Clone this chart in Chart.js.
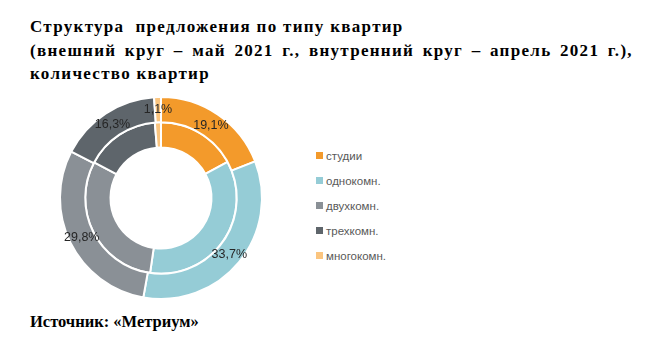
<!DOCTYPE html>
<html lang="ru">
<head>
<meta charset="utf-8">
<script src="https://cdn.jsdelivr.net/npm/chart.js@4"></script>
<style>
  html, body { margin: 0; padding: 0; background: #fff; }
  body { width: 653px; height: 338px; position: relative; overflow: hidden; }
  .title {
    position: absolute; left: 30px; top: 15px;
    font: bold 17px "Liberation Serif", "Times New Roman", serif;
    line-height: 23.5px; color: #000; white-space: nowrap;
  }
  .title div { letter-spacing: 1.3px; }
  .title .wide { word-spacing: 3px; }
  .source {
    position: absolute; left: 30px; top: 313px;
    font: bold 16.5px "Liberation Serif", "Times New Roman", serif;
    line-height: 17px; color: #000; white-space: nowrap;
  }
  .chart-box { position: absolute; left: 55px; top: 92px; width: 212px; height: 212px; }
  #legend {
    position: absolute; left: 316px; top: 148px; margin: 0; padding: 0; list-style: none;
    font: 11.5px "Liberation Sans", Arial, sans-serif; color: #595959;
  }
  #legend li { height: 25px; line-height: 16px; }
  #legend span.box { display: inline-block; width: 7px; height: 7px; margin-right: 3px; vertical-align: 1px; }
</style>
</head>
<body>
<div class="title">
  <div>Структура&nbsp; предложения по типу квартир</div>
  <div class="wide">(внешний круг – май 2021 г., внутренний круг – апрель 2021 г.),</div>
  <div>количество квартир</div>
</div>
<div class="chart-box"><canvas id="ringChart"></canvas></div>
<ul id="legend"></ul>
<div class="source">Источник: «Метриум»</div>

<script>
// apartment types and shares, %
const categories = ['студии', 'однокомн.', 'двухкомн.', 'трехкомн.', 'многокомн.'];
const mayShares = [19.1, 33.7, 29.8, 16.3, 1.1];     // outer ring
const aprilShares = [17.1, 35.2, 30.5, 15.9, 1.3];   // inner ring
const sliceColors = ['#F39A2B', '#95CCD6', '#8A9096', '#5E656B', '#FBC57F'];

// percent labels on the outer ring, placed at the middle of each arc
const ringLabels = {
    id: 'ringLabels',
    afterDatasetsDraw(chart) {
        const ctx = chart.ctx;
        const meta = chart.getDatasetMeta(0);
        ctx.save();
        ctx.font = '12.5px "Liberation Sans", Arial, sans-serif';
        ctx.fillStyle = '#262626';
        ctx.textAlign = 'center';
        ctx.textBaseline = 'middle';
        meta.data.forEach(function(arc, i) {
            const p = arc.tooltipPosition();
            const txt = mayShares[i].toFixed(1).replace('.', ',') + '%';
            ctx.fillText(txt, p.x, p.y);
        });
        ctx.restore();
    }
};

new Chart(document.getElementById('ringChart'), {
    type: 'doughnut',
    data: {
        labels: categories,
        datasets: [
            { data: mayShares, backgroundColor: sliceColors, borderColor: '#fff', borderWidth: 2 },
            { data: aprilShares, backgroundColor: sliceColors, borderColor: '#fff', borderWidth: 2 }
        ]
    },
    options: {
        responsive: true,
        maintainAspectRatio: false,
        animation: false,
        cutout: '50%',
        layout: { padding: 4 },
        plugins: {
            legend: { display: false },
            tooltip: { enabled: false }
        }
    },
    plugins: [ringLabels]
});

// legend built from the same arrays
const legendEl = document.getElementById('legend');
categories.forEach(function(name, i) {
    const li = document.createElement('li');
    li.innerHTML = '<span class="box" style="background:' + sliceColors[i] + '"></span>' + name;
    legendEl.appendChild(li);
});
</script>
</body>
</html>
